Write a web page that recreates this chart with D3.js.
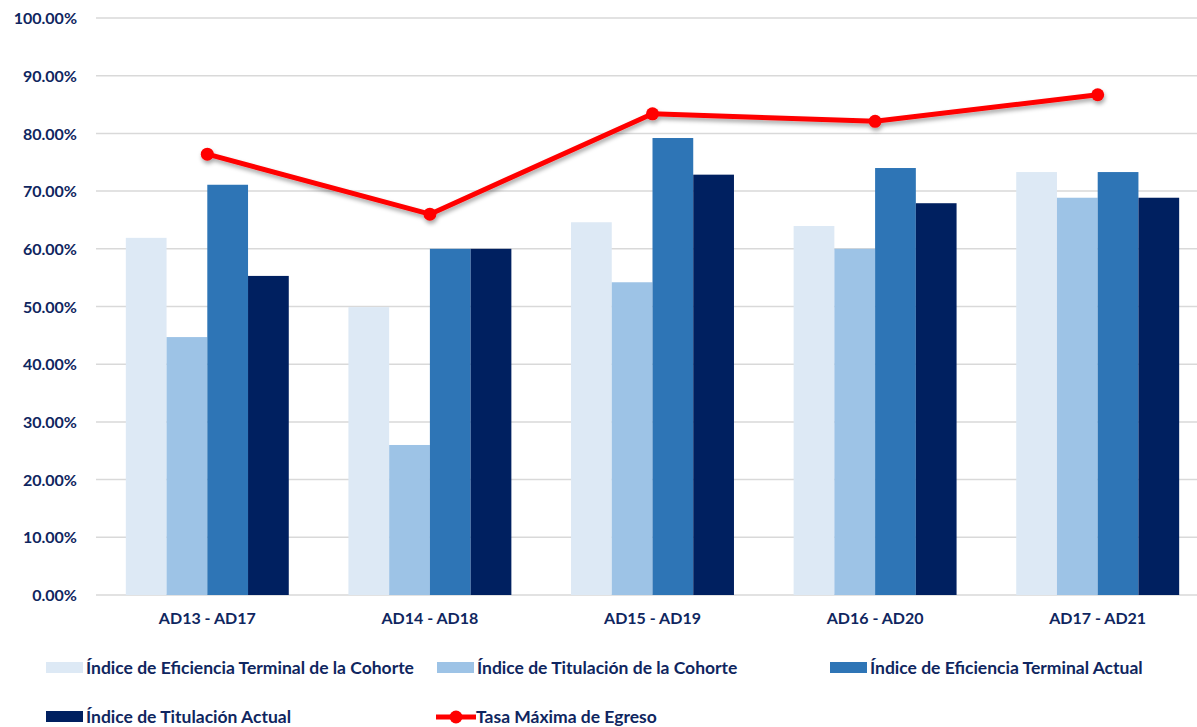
<!DOCTYPE html>
<html><head><meta charset="utf-8">
<script src="https://cdn.jsdelivr.net/npm/d3@7"></script>
<style>
html,body{margin:0;padding:0;background:#fff;}
svg text{font-family:"Lato","Open Sans",sans-serif;font-weight:700;fill:#0f2660;}
</style></head><body>
<svg id="chart" width="1197" height="727"></svg>
<script>
const categories = ["AD13 - AD17","AD14 - AD18","AD15 - AD19","AD16 - AD20","AD17 - AD21"];
const seriesNames = ["Índice de Eficiencia Terminal de la Cohorte","Índice de Titulación de la Cohorte","Índice de Eficiencia Terminal Actual","Índice de Titulación Actual"];
const eficienciaCohorte = [61.9, 49.9, 64.6, 63.95, 73.3];
const titulacionCohorte = [44.7, 26.0, 54.2, 60.0, 68.85];
const eficienciaActual = [71.1, 60.0, 79.2, 74.0, 73.3];
const titulacionActual = [55.3, 60.0, 72.85, 67.9, 68.85];
const lineName = "Tasa Máxima de Egreso";
const tasaMaxima = [76.4, 66.0, 83.4, 82.1, 86.7];
const yTicks = [0,10,20,30,40,50,60,70,80,90,100];
const colors = ["#dde9f5","#9dc3e6","#2e75b6","#002060"];

const svg = d3.select("#chart");
const y = d3.scaleLinear().domain([0,100]).range([595,18]);
const x0 = d3.scaleBand().domain(categories).range([96,1209]).paddingInner(0.268).paddingOuter(0.134);
const x1 = d3.scaleBand().domain(d3.range(4)).range([0,x0.bandwidth()]);
const seriesVals = [eficienciaCohorte,titulacionCohorte,eficienciaActual,titulacionActual];

const defs = svg.append("defs");
const f = defs.append("filter").attr("id","sh").attr("x","-10%").attr("y","-30%").attr("width","120%").attr("height","180%");
f.append("feDropShadow").attr("dx",1).attr("dy",3).attr("stdDeviation",2).attr("flood-color","#000").attr("flood-opacity",0.35);

// gridlines
const yAxis = d3.axisLeft(y).tickValues(yTicks).tickSize(0).tickPadding(0).tickFormat(d=>d.toFixed(2)+"%");
svg.append("g").selectAll("line").data(yTicks).join("line")
  .attr("x1",96).attr("x2",1197).attr("y1",d=>y(d)).attr("y2",d=>y(d))
  .attr("stroke","#d9d9d9").attr("stroke-width",1.5);
const ga = svg.append("g").attr("transform","translate(77,0)").call(yAxis);
ga.select(".domain").remove();
ga.selectAll("text").attr("font-size",16).attr("dy","0.35em").style("font-family","Lato, sans-serif").style("font-weight",700).attr("fill","#0f2660");

// bars
const g = svg.append("g");
categories.forEach((c,ci)=>{
  seriesVals.forEach((vals,si)=>{
    g.append("rect").attr("x",x0(c)+x1(si)).attr("width",x1.bandwidth())
     .attr("y",y(vals[ci])).attr("height",y(0)-y(vals[ci])).attr("fill",colors[si]);
  });
});
// x axis
const xa = d3.axisBottom(x0).tickSize(0).tickPadding(18);
const gx = svg.append("g").attr("transform","translate(0,595)").call(xa);
gx.select(".domain").remove();
gx.selectAll("text").attr("font-size",16).style("font-family","Lato, sans-serif").style("font-weight",700).attr("fill","#0f2660");

// line
const line = d3.line().x((d,i)=>x0(categories[i])+x0.bandwidth()/2).y(d=>y(d));
const lg = svg.append("g").attr("filter","url(#sh)");
lg.append("path").datum(tasaMaxima).attr("d",line).attr("fill","none").attr("stroke","#ff0000").attr("stroke-width",5).attr("stroke-linejoin","round");
lg.selectAll("circle").data(tasaMaxima).join("circle")
  .attr("cx",(d,i)=>x0(categories[i])+x0.bandwidth()/2).attr("cy",d=>y(d)).attr("r",6.5).attr("fill","#ff0000");

// legend
const leg = [
  {name:seriesNames[0],type:"bar",c:colors[0],x:46,y:668},
  {name:seriesNames[1],type:"bar",c:colors[1],x:437,y:668},
  {name:seriesNames[2],type:"bar",c:colors[2],x:830,y:668},
  {name:seriesNames[3],type:"bar",c:colors[3],x:46,y:717},
  {name:lineName,type:"line",c:"#ff0000",x:436,y:717}
];
const lgd = svg.append("g");
leg.forEach(l=>{
  if(l.type==="bar"){
    lgd.append("rect").attr("x",l.x).attr("y",l.y-6).attr("width",37).attr("height",11).attr("fill",l.c);
  } else {
    lgd.append("line").attr("x1",l.x).attr("x2",l.x+40).attr("y1",l.y).attr("y2",l.y).attr("stroke",l.c).attr("stroke-width",5);
    lgd.append("circle").attr("cx",l.x+20).attr("cy",l.y).attr("r",6.5).attr("fill",l.c);
  }
  lgd.append("text").attr("x",l.x+40).attr("y",l.y).attr("dy","0.35em").attr("font-size",17.5).text(l.name);
});
</script></body></html>
